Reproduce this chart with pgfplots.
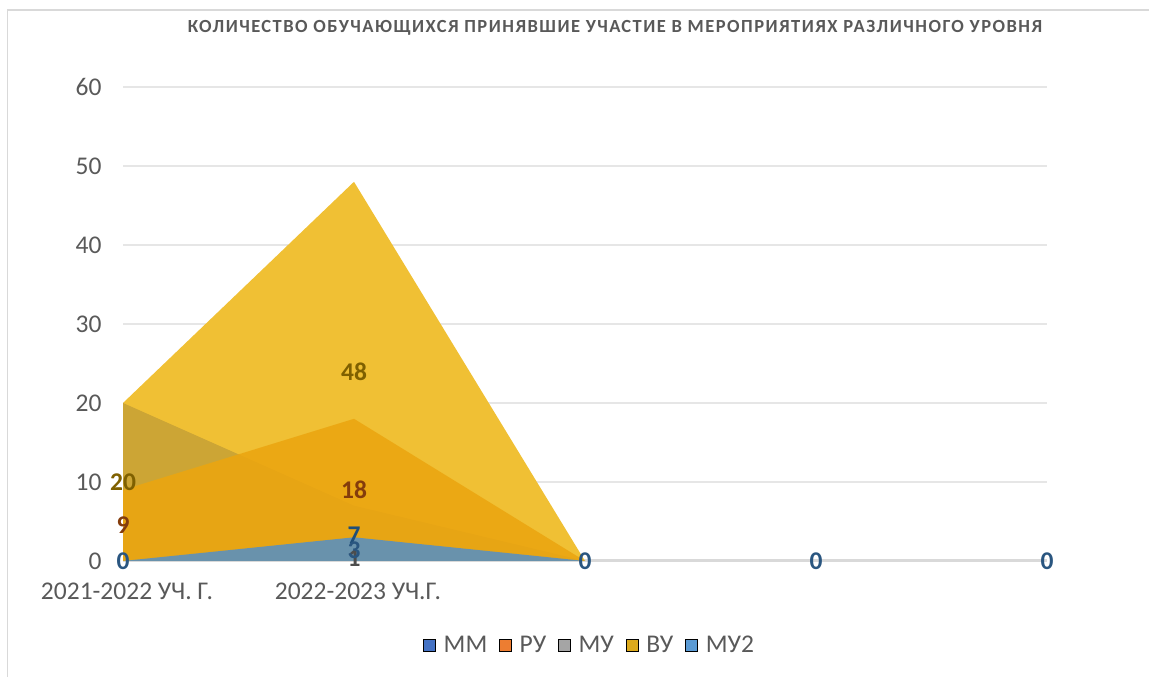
\documentclass[border=0pt]{standalone}
\usepackage{fontspec}
\setmainfont{Carlito}
\newfontfamily\titlefont[LetterSpace=8]{Carlito}
\usepackage{pgfplots}
\pgfplotsset{compat=1.18}
\definecolor{txt}{HTML}{595959}
\definecolor{gridc}{HTML}{E6E6E6}
\definecolor{floorc}{HTML}{D9D9D9}
\definecolor{cMM}{HTML}{4472C4}
\definecolor{cRU}{HTML}{ED7D31}
\definecolor{cMU}{HTML}{A5A5A5}
\definecolor{cVU}{HTML}{DDAA1C}
\definecolor{cMU2}{HTML}{5B9BD5}
\definecolor{fVU}{HTML}{F0C034}
\definecolor{fMU}{HTML}{CCA535}
\definecolor{fRU}{HTML}{EBA510}
\definecolor{fMU2}{HTML}{6391B5}
\definecolor{lVU}{HTML}{7F6000}
\definecolor{lRU}{HTML}{843C0C}
\definecolor{lMU}{HTML}{4D4D4D}
\definecolor{lMM}{HTML}{1F4E79}
\definecolor{lMU2}{HTML}{2A5680}
\begin{document}
\begin{tikzpicture}[x=1pt,y=1pt]
\path[use as bounding box] (0,0) rectangle (1149,677);
\draw[floorc, line width=1.5pt] (7.5,-5) -- (7.5,667) -- (1160,667);
\node[font=\titlefont\bfseries\fontsize{18.5}{22}\selectfont, text=txt] at (615,649) {КОЛИЧЕСТВО ОБУЧАЮЩИХСЯ ПРИНЯВШИЕ УЧАСТИЕ В МЕРОПРИЯТИЯХ РАЗЛИЧНОГО УРОВНЯ};
\begin{axis}[
  at={(123pt,116pt)}, anchor=south west,
  scale only axis, width=924pt, height=474pt,
  xmin=0, xmax=4, ymin=0, ymax=60,
  axis x line*=bottom, axis y line*=left,
  x axis line style={draw=floorc, line width=3pt, -},
  y axis line style={draw=none},
  ymajorgrids, grid style={gridc, line width=1.2pt},
  major tick length=0,
  ytick={0,10,...,60},
  xtick={0,1},
  xticklabels={2021-2022 УЧ. Г., 2022-2023 УЧ.Г.},
  /pgf/number format/assume math mode=true,
  ticklabel style={font=\fontsize{25.5}{30}\selectfont, text=txt},
  xticklabel style={yshift=-18pt, xshift=4pt},
  yticklabel style={xshift=-18pt},
  legend style={at={(0.505,-0.177)}, anchor=center, draw=none, fill=none,
    font=\fontsize{25.5}{30}\selectfont, text=txt, legend columns=-1,
    /tikz/every odd column/.append style={column sep=6pt},
    /tikz/every even column/.append style={column sep=10pt}},
  legend image code/.code={\fill[#1] (0pt,-6pt) rectangle (12pt,6pt);},
  every node near coord/.append style={anchor=center, font=\bfseries\fontsize{25.5}{30}\selectfont},
]
% areas (back to front); values at the last two categories are 0
\addplot[fill=fVU, draw=none, forget plot] coordinates {(0,20) (1,48) (2,0)} \closedcycle;
\addplot[fill=fMU, draw=none, forget plot] coordinates {(0,20) (1,7) (2,0)} \closedcycle;
\addplot[fill=fRU, fill opacity=0.88, draw=none, forget plot] coordinates {(0,9) (1,18) (2,0)} \closedcycle;
\addplot[fill=fMU2, fill opacity=0.95, draw=none, forget plot] coordinates {(0,0) (1,3) (2,0)} \closedcycle;
% data labels (placed at half value)
\addplot[draw=none, mark=none, forget plot, nodes near coords, point meta=explicit symbolic,
  every node near coord/.append style={text=lVU}] coordinates {(0,10)[20] (1,24)[48]};
\addplot[draw=none, mark=none, forget plot, nodes near coords, point meta=explicit symbolic,
  every node near coord/.append style={text=lRU}] coordinates {(0,4.5)[9] (1,9)[18]};
\addplot[draw=none, mark=none, forget plot, nodes near coords, point meta=explicit symbolic,
  every node near coord/.append style={text=lMU}] coordinates {(1,0.4)[1]};
\addplot[draw=none, mark=none, forget plot, nodes near coords, point meta=explicit symbolic,
  every node near coord/.append style={text=lMM}] coordinates {(1,3.3)[7]};
\addplot[draw=none, mark=none, forget plot, nodes near coords, point meta=explicit symbolic,
  every node near coord/.append style={text=lMU2}] coordinates {(0,0)[0] (1,1.4)[3] (2,0)[0] (3,0)[0] (4,0)[0]};
% legend
\addlegendimage{fill=cMM}\addlegendentry{ММ}
\addlegendimage{fill=cRU}\addlegendentry{РУ}
\addlegendimage{fill=cMU}\addlegendentry{МУ}
\addlegendimage{fill=cVU}\addlegendentry{ВУ}
\addlegendimage{fill=cMU2}\addlegendentry{МУ2}
\end{axis}
\end{tikzpicture}
\end{document}
